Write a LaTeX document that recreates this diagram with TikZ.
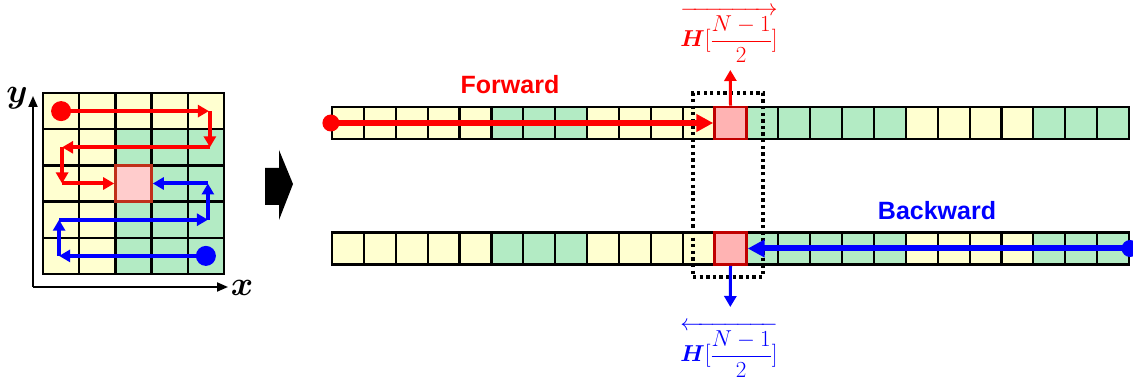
\RequirePackage{fix-cm}
\documentclass[tikz,border=0pt]{standalone}
\usepackage{amsmath}
\usepackage{fontspec}
\setsansfont{Liberation Sans}
\usetikzlibrary{arrows.meta}
\definecolor{cY}{HTML}{FFFFD0}
\definecolor{cG}{HTML}{B3EBC4}
\definecolor{cP}{HTML}{FFB3B3}
\definecolor{cPg}{HTML}{FFCCCC}
\definecolor{bR}{HTML}{C00000}
\definecolor{bRg}{HTML}{C0301A}
\begin{document}
\begin{tikzpicture}[x=1pt,y=-1pt,
  gcell/.style={draw=black, line width=2.4pt, inner sep=0pt, minimum width=36.2pt, minimum height=36.2pt},
  scell/.style={draw=black, line width=2.2pt, inner sep=0pt, minimum width=31.88pt, minimum height=32pt},
  gpath/.style={line width=4pt, -{Triangle[length=11pt,width=12pt]}},
  spath/.style={line width=6pt, -{Triangle[length=17pt,width=17pt]}},
  vpath/.style={line width=3pt, -{Triangle[length=11pt,width=12pt]}},
  dotmark/.style={circle, inner sep=0pt},
  axis/.style={line width=2pt, -{Triangle[length=11pt,width=9pt]}},
  dotbox/.style={draw=black, line width=3.3pt, dash pattern=on 3.3pt off 3.3pt, inner sep=0pt},
  lbl/.style={font=\fontsize{25}{30}\selectfont\sffamily\bfseries},
  mlbl/.style={font=\fontsize{23}{27}\selectfont, inner sep=0pt},
  axlbl/.style={font=\fontsize{34}{38}\selectfont, inner sep=0pt},
]
\useasboundingbox (0,0) rectangle (1133,387);

% ---- left grid ----
\foreach \r in {0,...,4}{\foreach \c in {0,...,4}{
  \ifnum\r=0 \def\fc{cY}\else\ifnum\c<2 \def\fc{cY}\else\def\fc{cG}\fi\fi
  \node[gcell, fill=\fc] (g-\r-\c) at ({43+36.2*(\c+0.5)},{93+36.2*(\r+0.5)}) {};
}}
\node[gcell, draw=bRg, fill=cPg] (gp) at (g-2-2) {};

% axes
\coordinate (org) at (33,287);
\coordinate (ytip) at (33,96);
\coordinate (xtip) at (228,287);
\draw[axis] (org) -- (ytip);
\draw[axis] (org) -- (xtip);
\node[axlbl] (ylab) at (17,98) {$\boldsymbol{y}$};
\node[axlbl] (xlab) at (242,288) {$\boldsymbol{x}$};

% red path in grid
\node[dotmark, fill=red, minimum size=20pt] (rg) at (g-0-0) {};
\draw[gpath, red] (rg.center) -- ([xshift=3pt]g-0-4.center);
\draw[gpath, red] ([xshift=4pt]g-0-4.center) -- ([xshift=4pt]g-1-4.center);
\draw[gpath, red] ([xshift=4pt]g-1-4.center) -- ([xshift=1pt]g-1-0.center);
\draw[gpath, red] ([xshift=1pt]g-1-0.center) -- ([xshift=1pt]g-2-0.center);
\draw[gpath, red] ([xshift=1pt]g-2-0.center) -- (gp.west);

% blue path in grid
\node[dotmark, fill=blue, minimum size=20pt] (bg) at (g-4-4) {};
\draw[gpath, blue] (bg.center) -- ([xshift=-2pt]g-4-0.center);
\draw[gpath, blue] ([xshift=-2pt]g-4-0.center) -- ([xshift=-2pt]g-3-0.center);
\draw[gpath, blue] ([xshift=-2pt]g-3-0.center) -- ([xshift=2pt]g-3-4.center);
\draw[gpath, blue] ([xshift=2pt]g-3-4.center) -- ([xshift=2pt]g-2-4.center);
\draw[gpath, blue] ([xshift=2pt]g-2-4.center) -- (gp.east);

% block arrow
\fill[black] (265,168) -- (279,168) -- (279,150) -- (293,184) -- (279,220) -- (279,205) -- (265,205) -- cycle;

% ---- strips ----
\foreach \k [count=\i from 0] in {cY,cY,cY,cY,cY,cG,cG,cG,cY,cY,cY,cY,cP,cG,cG,cG,cG,cG,cY,cY,cY,cY,cG,cG,cG}{
  \node[scell, fill=\k] (t-\i) at ({332+31.88*(\i+0.5)},123) {};
  \node[scell, fill=\k] (b-\i) at ({332+31.88*(\i+0.5)},248.5) {};
}
\node[scell, draw=bR, line width=2.6pt, fill=cP] (tp) at (t-12) {};
\node[scell, draw=bR, line width=2.6pt, fill=cP] (bp) at (b-12) {};

% dotted window
\node[dotbox, minimum width=70pt, minimum height=184pt] (win) at (728,185) {};

% forward
\node[dotmark, fill=red, minimum size=17pt] (rs) at (t-0.west) {};
\draw[spath, red] (rs.center) -- (tp.west);
\node[lbl, text=red] (fw) at (510,85) {Forward};

% backward
\node[dotmark, fill=blue, minimum size=17pt] (bs) at (b-24.east) {};
\draw[spath, blue] (bs.center) -- (bp.east);
\node[lbl, text=blue] (bw) at (937,211) {Backward};

% outputs
\coordinate (upend) at (730.3,70);
\coordinate (dnend) at (730.3,307);
\draw[vpath, red] (tp.north) -- (upend);
\draw[vpath, blue] (bp.south) -- (dnend);
\node[mlbl, text=red] (lt) at (729,35) {$\displaystyle\overrightarrow{\boldsymbol{H}[\frac{N-1}{2}]}$};
\node[mlbl, text=blue] (lb) at (729,350) {$\displaystyle\overleftarrow{\boldsymbol{H}[\frac{N-1}{2}]}$};
\end{tikzpicture}
\end{document}
